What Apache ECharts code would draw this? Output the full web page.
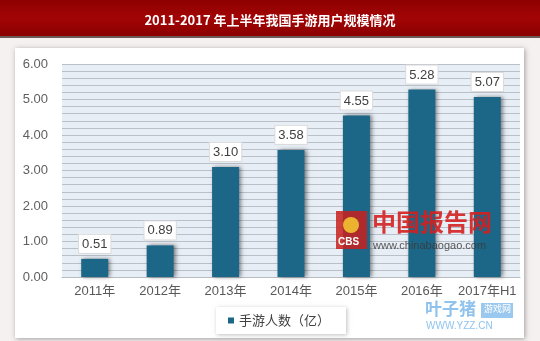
<!DOCTYPE html>
<html>
<head>
<meta charset="utf-8">
<script src="https://cdn.jsdelivr.net/npm/echarts@6/dist/echarts.min.js"></script>
<style>
  html, body { margin: 0; padding: 0; background: #f6f1f1; }
  #chart { width: 540px; height: 341px; }
</style>
</head>
<body>
<div id="chart"></div>
<script>
// Mobile game users in China, 2011 - first half of 2017 (hundred millions)
const categories = ['2011年', '2012年', '2013年', '2014年', '2015年', '2016年', '2017年H1'];
const users = [0.51, 0.89, 3.10, 3.58, 4.55, 5.28, 5.07];
const seriesName = '手游人数（亿）';
const titleText = '2011-2017 年上半年我国手游用户规模情况';

const FONT = '"Liberation Sans", Arial, "Noto Sans CJK SC", sans-serif';
const CJK = '"Noto Sans CJK SC", sans-serif';
const chart = echarts.init(document.getElementById('chart'), null, { renderer: 'canvas' });

// site marks drawn on top of the bars
const MARK_Z = 100;

chart.setOption({
  backgroundColor: '#f6f1f1',
  animation: false,
  title: {
    text: titleText,
    left: 'center',
    top: 9,
    textStyle: { color: '#ffffff', fontSize: 13, fontWeight: 'bold', fontFamily: CJK }
  },
  graphic: [
    // title band
    {
      type: 'rect', z: -10, silent: true,
      shape: { x: 0, y: 0, width: 540, height: 36 },
      style: {
        fill: new echarts.graphic.LinearGradient(0, 0, 0, 1, [
          { offset: 0, color: '#8e0000' },
          { offset: 0.5, color: '#a30505' },
          { offset: 1, color: '#8a0000' }
        ])
      }
    },
    { type: 'rect', z: -10, silent: true, shape: { x: 0, y: 36, width: 540, height: 2 }, style: { fill: '#6f5a5a' } },
    // white card behind the plot
    {
      type: 'rect', z: -9, silent: true,
      shape: { x: 15, y: 48, width: 509, height: 290 },
      style: { fill: '#ffffff', shadowBlur: 5, shadowColor: 'rgba(0,0,0,0.35)', shadowOffsetX: 1, shadowOffsetY: 1 }
    },
    // paragraph mark after the heading
    { type: 'text', silent: true, left: 387, top: 12, style: { text: '↵', fill: '#d89a9a', fontSize: 9 } },
    // chinabaogao mark
    { type: 'rect', silent: true, z: MARK_Z, shape: { x: 336, y: 211, width: 31, height: 38 }, style: { fill: '#c8201c', opacity: 0.85 } },
    { type: 'circle', silent: true, z: MARK_Z, shape: { cx: 351, cy: 225, r: 8 }, style: { fill: '#f2c230', opacity: 0.9 } },
    { type: 'text', silent: true, z: MARK_Z, style: { x: 338, y: 237, text: 'CBS', fill: '#ffffff', fontSize: 10, fontWeight: 'bold', fontFamily: FONT } },
    { type: 'text', silent: true, z: MARK_Z, style: { x: 372, y: 210, text: '中国报告网', fill: '#d42020', fontSize: 24, fontWeight: 'bold', fontFamily: CJK, opacity: 0.9 } },
    { type: 'text', silent: true, z: MARK_Z, style: { x: 373, y: 240, text: 'www.chinabaogao.com', fill: '#3a3a3a', fontSize: 11, fontFamily: FONT, opacity: 0.85 } },
    // yzz mark
    { type: 'text', silent: true, z: MARK_Z, style: { x: 425, y: 300, text: '叶子猪', fill: '#8fc3ee', fontSize: 17, fontWeight: 'bold', fontFamily: CJK } },
    { type: 'rect', silent: true, z: MARK_Z, shape: { x: 481, y: 303, width: 32, height: 15 }, style: { fill: '#9ac8ee' } },
    { type: 'text', silent: true, z: MARK_Z, style: { x: 484, y: 304, text: '游戏网', fill: '#ffffff', fontSize: 9, fontFamily: CJK } },
    { type: 'text', silent: true, z: MARK_Z, style: { x: 426, y: 321, text: 'WWW.YZZ.CN', fill: '#8fc3ee', fontSize: 10, fontFamily: FONT } }
  ],
  legend: {
    data: [seriesName],
    left: 216,
    top: 307,
    icon: 'rect',
    itemWidth: 6,
    itemHeight: 6,
    itemGap: 6,
    padding: [7, 16, 7, 12],
    backgroundColor: '#ffffff',
    shadowBlur: 4,
    shadowColor: 'rgba(0,0,0,0.25)',
    shadowOffsetX: 1,
    shadowOffsetY: 1,
    textStyle: { color: '#404040', fontSize: 13, fontFamily: CJK }
  },
  grid: {
    left: 62, right: 20, top: 64, bottom: 64,
    show: true, backgroundColor: '#e8eef5', borderWidth: 0
  },
  xAxis: {
    type: 'category',
    data: categories,
    axisLine: { show: true, lineStyle: { color: '#b7bcc2', width: 1 } },
    axisTick: { show: false },
    axisLabel: { color: '#595959', fontSize: 13, margin: 8, fontFamily: FONT, interval: 0 }
  },
  yAxis: {
    type: 'value',
    min: 0, max: 6, interval: 1,
    axisLine: { show: false },
    axisTick: { show: false },
    axisLabel: { color: '#5f5f5f', fontSize: 13, margin: 14, fontFamily: FONT, formatter: v => v.toFixed(2) },
    splitLine: { show: true, lineStyle: { color: '#b9c0c8', width: 1 } },
    minorTick: { show: false, splitNumber: 5 },
    minorSplitLine: { show: true, lineStyle: { color: '#b9c0c8', width: 1 } }
  },
  series: [{
    name: seriesName,
    type: 'bar',
    data: users,
    barWidth: 27,
    itemStyle: {
      color: '#1c6787',
      shadowBlur: 4,
      shadowColor: 'rgba(0,0,0,0.45)',
      shadowOffsetX: 2,
      shadowOffsetY: 0
    },
    label: {
      show: true,
      position: 'top',
      distance: 6,
      formatter: p => p.value.toFixed(2),
      color: '#404040',
      fontSize: 13,
      fontFamily: FONT,
      backgroundColor: '#ffffff',
      borderColor: '#dcdcdc',
      borderWidth: 1,
      padding: [3, 3, 2, 3]
    }
  }]
});
</script>
</body>
</html>
